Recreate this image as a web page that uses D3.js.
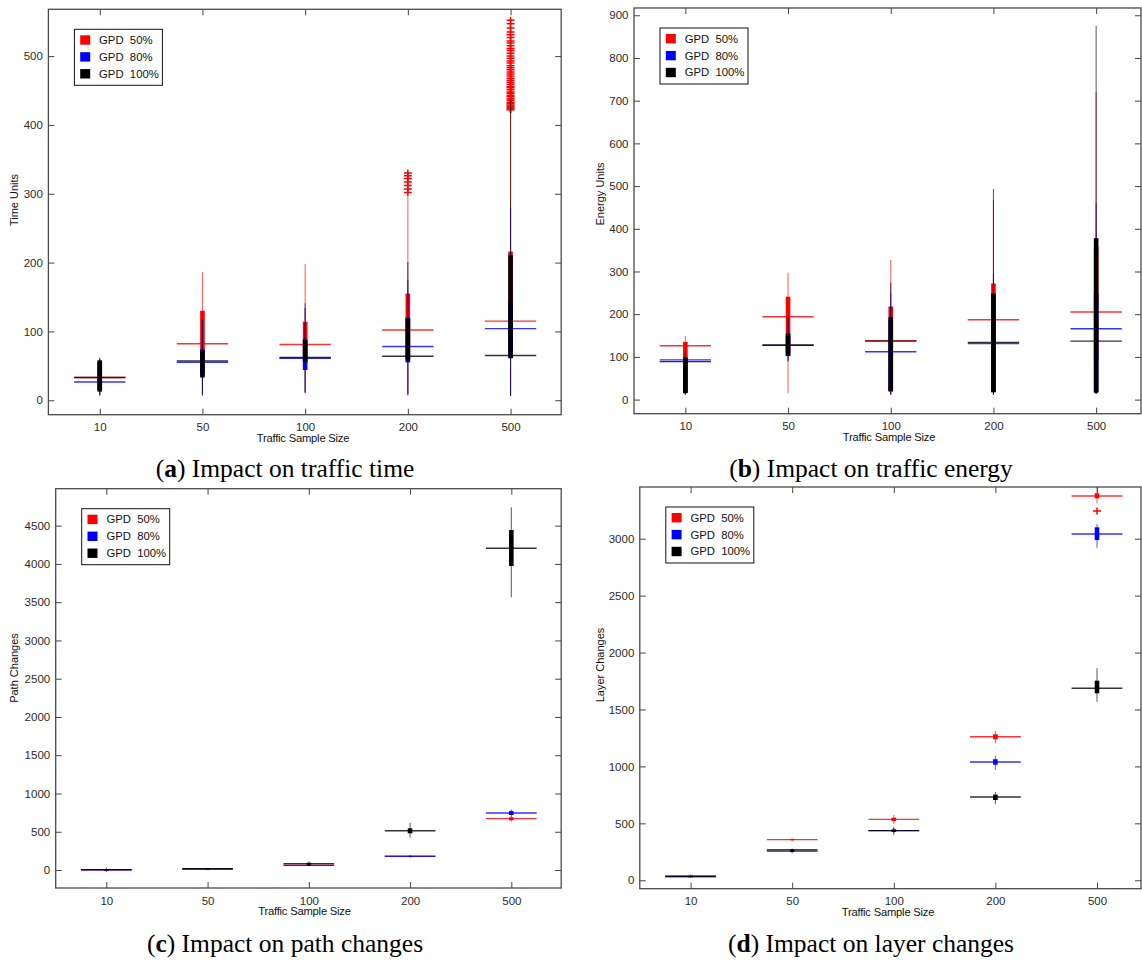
<!DOCTYPE html>
<html lang="en">
<head>
    <meta charset="UTF-8">
    <title>GPD impact</title>
    <script src="https://cdn.jsdelivr.net/npm/d3@7"></script>
    <style>
        body {
            margin: 0;
            background: #fff;
        }
        svg {
            display: block;
        }
        .tick text {
            font-family: 'Liberation Sans', Arial, sans-serif;
            font-size: 11.5px;
            fill: #2b2b2b;
        }
        .tick line {
            stroke: #444;
        }
    </style>
</head>
<body>
    <svg id="chart" width="1142" height="960"></svg>
    <script>
        const categories = ['10', '50', '100', '200', '500']
        const seriesNames = ['GPD  50%', 'GPD  80%', 'GPD  100%']
        const seriesColors = ['#ff0000', '#0000ff', '#000000']

        // per category: [whisker low, box low, box high, whisker high, line value]
        const time50 = [[8, 15, 55, 60, 33], [10, 40, 130, 186, 82], [12, 55, 114, 198, 81], [10, 60, 155, 296, 102], [6, 62, 216, 420, 115]]
        const time80 = [[7, 14, 56, 60, 26.6], [7, 36, 74, 117, 55], [11, 44, 89, 141, 61], [8, 55, 120, 175, 78], [6, 62, 143, 280, 104]]
        const time100 = [[7, 12.5, 58, 62, 33], [7, 33, 72, 117, 57], [10, 56, 87, 134, 62], [7, 58, 119, 201, 64], [6, 61, 211, 436, 65]]
        const timeOutliers50 = [[], [], [], [302, 307, 312, 317, 322, 326, 330],
            [422, 423, 425, 427, 429, 431, 433, 436, 438, 441, 443, 446, 448, 451, 454, 456, 459, 462, 465, 468, 471,
             474, 477, 480, 483, 486, 490, 493, 497, 500, 504, 508, 511, 515, 519, 522, 527, 531, 535, 541, 547, 552]]
        const timeTicks = [0, 100, 200, 300, 400, 500]

        const energy50 = [[14, 18, 135, 149, 126], [15, 110, 241, 297, 194], [12, 20, 218, 327, 138], [12, 18, 272, 468, 187], [14, 93, 358, 721, 205]]
        const energy80 = [[12, 16, 100, 117, 93], [92, 104, 150, 190, 127], [12, 20, 185, 250, 112], [12, 18, 240, 296, 131], [14, 18, 249, 460, 166]]
        const energy100 = [[11, 15, 97, 100, 89], [89, 102, 155, 198, 128], [11, 19, 193, 274, 137], [11, 17, 249, 493, 134], [13, 16, 378, 875, 137]]
        const energyTicks = [0, 100, 200, 300, 400, 500, 600, 700, 800, 900]

        const path50 = [[0, 2, 6, 12, 4], [6, 10, 18, 24, 14], [50, 58, 70, 80, 64], [165, 172, 184, 192, 178], [630, 650, 689, 705, 671]]
        const path80 = [[0, 2, 6, 12, 4], [6, 11, 19, 25, 15], [48, 55, 67, 76, 61], [168, 174, 184, 190, 179], [700, 719, 771, 790, 745]]
        const path100 = [[-25, 0, 10, 32, 5], [5, 12, 22, 30, 17], [55, 70, 95, 110, 83], [423, 480, 545, 618, 514], [3564, 3973, 4443, 4740, 4204]]
        const pathTicks = [0, 500, 1000, 1500, 2000, 2500, 3000, 3500, 4000, 4500]

        const layer50 = [[28, 34, 46, 52, 40], [346, 352, 362, 366, 357], [494, 520, 550, 573, 535], [1203, 1238, 1282, 1314, 1261], [3311, 3355, 3399, 3470, 3375]]
        const layer80 = [[24, 28, 36, 40, 32], [258, 264, 274, 280, 269], [398, 425, 447, 471, 436], [969, 1015, 1063, 1094, 1039], [2921, 2988, 3100, 3129, 3041]]
        const layer100 = [[24, 28, 36, 42, 32], [238, 250, 264, 272, 257], [415, 428, 444, 458, 436], [667, 705, 752, 775, 731], [1568, 1642, 1753, 1862, 1686]]
        const layerOutliers50 = [[], [], [], [], [3243]]
        const layerTicks = [0, 500, 1000, 1500, 2000, 2500, 3000]

        const panels = [
            { letter: 'a', caption: ' Impact on traffic time', yLabel: 'Time Units',
              series: [time50, time80, time100], outliers: timeOutliers50, yDomain: [-21, 568], yTicks: timeTicks,
              left: 48.4, right: 561.2, top: 9.3, bottom: 414.7, step: 102.7,
              yLabelX: 14.6, yLabelY: 200, xLabelX: 303, captionX: 285, captionY: 477 },
            { letter: 'b', caption: ' Impact on traffic energy', yLabel: 'Energy Units',
              series: [energy50, energy80, energy100], outliers: null, yDomain: [-33, 917], yTicks: energyTicks,
              left: 634, right: 1141, top: 8, bottom: 413.7, step: 102.7,
              yLabelX: 600, yLabelY: 194, xLabelX: 889, captionX: 871, captionY: 477 },
            { letter: 'c', caption: ' Impact on path changes', yLabel: 'Path Changes',
              series: [path50, path80, path100], outliers: null, yDomain: [-235, 4983], yTicks: pathTicks,
              left: 55.7, right: 561.2, top: 488.7, bottom: 888, step: 101.25,
              yLabelX: 14.6, yLabelY: 668, xLabelX: 304.5, captionX: 285, captionY: 952 },
            { letter: 'd', caption: ' Impact on layer changes', yLabel: 'Layer Changes',
              series: [layer50, layer80, layer100], outliers: layerOutliers50, yDomain: [-74, 3454], yTicks: layerTicks,
              left: 639.8, right: 1141, top: 487, bottom: 888.7, step: 101.6,
              yLabelX: 600, yLabelY: 665, xLabelX: 888, captionX: 871, captionY: 952 }
        ]

        const svg = d3.select('#chart')

        panels.forEach(drawPanel)

        function drawPanel(p) {
            const g = svg.append('g').attr('class', 'panel-' + p.letter)
            const x = d3.scalePoint()
                .domain(categories)
                .range([p.left + p.step / 2, p.left + p.step * 4.5])
            const y = d3.scaleLinear()
                .domain(p.yDomain)
                .range([p.bottom, p.top])

            g.append('clipPath')
                .attr('id', 'clip-' + p.letter)
                .append('rect')
                .attr('x', p.left)
                .attr('y', p.top)
                .attr('width', p.right - p.left)
                .attr('height', p.bottom - p.top)

            drawAxes(g, p, x, y)

            const marks = g.append('g').attr('clip-path', `url(#clip-${p.letter})`)
            p.series.forEach((rows, si) => {
                const color = seriesColors[si]
                const s = marks.append('g')
                s.selectAll('line.whisker')
                    .data(rows)
                    .join('line')
                    .attr('class', 'whisker')
                    .attr('x1', (d, i) => x(categories[i]))
                    .attr('x2', (d, i) => x(categories[i]))
                    .attr('y1', d => y(d[0]))
                    .attr('y2', d => y(d[3]))
                    .attr('stroke', color)
                    .attr('stroke-opacity', 0.6)
                    .attr('stroke-width', 1.1)
                s.selectAll('rect.box')
                    .data(rows)
                    .join('rect')
                    .attr('class', 'box')
                    .attr('x', (d, i) => x(categories[i]) - 2.3)
                    .attr('width', 4.6)
                    .attr('y', d => y(d[2]))
                    .attr('height', d => Math.max(1, y(d[1]) - y(d[2])))
                    .attr('fill', color)
                s.selectAll('line.level')
                    .data(rows)
                    .join('line')
                    .attr('class', 'level')
                    .attr('x1', (d, i) => x(categories[i]) - p.step * 0.25)
                    .attr('x2', (d, i) => x(categories[i]) + p.step * 0.25)
                    .attr('y1', d => y(d[4]))
                    .attr('y2', d => y(d[4]))
                    .attr('stroke', color)
                    .attr('stroke-opacity', 0.8)
                    .attr('stroke-width', 1.4)
                if (si === 0 && p.outliers) {
                    const pts = p.outliers.flatMap((vals, i) => vals.map(v => ({ cat: categories[i], v })))
                    s.selectAll('path.outlier')
                        .data(pts)
                        .join('path')
                        .attr('class', 'outlier')
                        .attr('transform', d => `translate(${x(d.cat)},${y(d.v)})`)
                        .attr('d', 'M-4,0H4M0,-3.5V3.5')
                        .attr('stroke', color)
                        .attr('stroke-width', 1.5)
                        .attr('fill', 'none')
                }
            })

            g.append('rect')
                .attr('x', p.left)
                .attr('y', p.top)
                .attr('width', p.right - p.left)
                .attr('height', p.bottom - p.top)
                .attr('fill', 'none')
                .attr('stroke', '#4a4a4a')
                .attr('stroke-width', 1.3)

            drawLegend(g, p.left + 26, p.top + 20)

            g.append('text')
                .attr('transform', `translate(${p.yLabelX},${p.yLabelY}) rotate(-90)`)
                .attr('text-anchor', 'middle')
                .attr('dy', '0.35em')
                .style('font-family', "'Liberation Sans', Arial, sans-serif")
                .style('font-size', '11px')
                .attr('fill', '#111')
                .text(p.yLabel)

            g.append('text')
                .attr('x', p.xLabelX)
                .attr('y', p.bottom + 27)
                .attr('text-anchor', 'middle')
                .style('font-family', "'Liberation Sans', Arial, sans-serif")
                .style('font-size', '11.2px')
                .style('letter-spacing', '-0.2px')
                .attr('fill', '#111')
                .text('Traffic Sample Size')

            const cap = g.append('text')
                .attr('x', p.captionX)
                .attr('y', p.captionY)
                .attr('text-anchor', 'middle')
                .style('font-family', "'Liberation Serif', 'Times New Roman', serif")
                .style('font-size', '25.5px')
                .attr('fill', '#000')
            cap.append('tspan').text('(')
            cap.append('tspan').attr('font-weight', 'bold').text(p.letter)
            cap.append('tspan').text(')' + p.caption)
        }

        function drawAxes(g, p, x, y) {
            const noDomain = sel => sel.select('.domain').remove()
            g.append('g')
                .attr('transform', `translate(0,${p.bottom})`)
                .call(d3.axisBottom(x).tickSizeInner(-6).tickSizeOuter(0).tickPadding(8.5))
                .call(noDomain)
            g.append('g')
                .attr('transform', `translate(0,${p.top})`)
                .call(d3.axisTop(x).tickSizeInner(-6).tickSizeOuter(0).tickFormat(() => ''))
                .call(noDomain)
            g.append('g')
                .attr('transform', `translate(${p.left},0)`)
                .call(d3.axisLeft(y).tickValues(p.yTicks).tickFormat(d3.format('d'))
                    .tickSizeInner(-6).tickSizeOuter(0).tickPadding(5.5))
                .call(noDomain)
            g.append('g')
                .attr('transform', `translate(${p.right},0)`)
                .call(d3.axisRight(y).tickValues(p.yTicks).tickSizeInner(-6).tickSizeOuter(0).tickFormat(() => ''))
                .call(noDomain)
        }

        function drawLegend(g, lx, ly) {
            const legend = g.append('g').attr('transform', `translate(${lx},${ly})`)
            legend.append('rect')
                .attr('width', 88)
                .attr('height', 56)
                .attr('fill', '#fff')
                .attr('stroke', '#111')
                .attr('stroke-width', 1)
            const items = legend.selectAll('g.item')
                .data(seriesNames)
                .join('g')
                .attr('class', 'item')
                .attr('transform', (d, i) => `translate(0,${10.7 + i * 16.9})`)
            items.append('rect')
                .attr('x', 5.8)
                .attr('y', -4.7)
                .attr('width', 10)
                .attr('height', 9.4)
                .attr('fill', (d, i) => seriesColors[i])
            items.append('text')
                .attr('x', 24.7)
                .attr('dy', '0.35em')
                .style('font-family', "'Liberation Sans', Arial, sans-serif")
                .style('font-size', '11.3px')
                .style('white-space', 'pre')
                .attr('fill', '#111')
                .text(d => d)
        }
    </script>
</body>
</html>
